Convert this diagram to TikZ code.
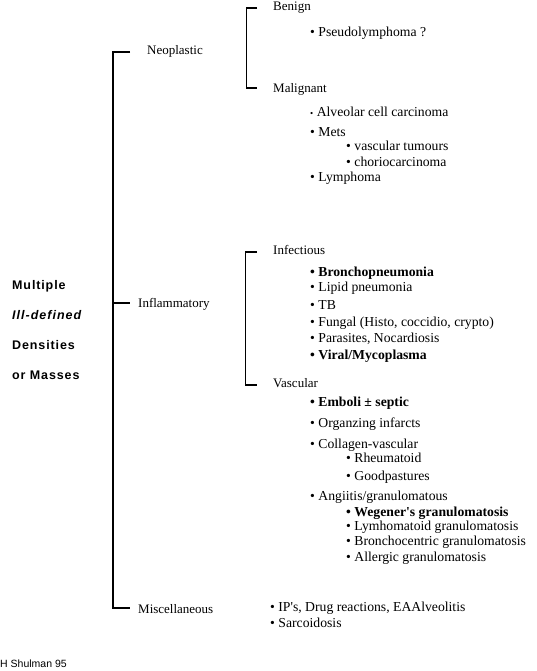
\documentclass[tikz,border=0pt]{standalone}
\usepackage{fontspec}
\setmainfont{Liberation Serif}[Ligatures=TeXOff]
\setsansfont{Liberation Sans}
\begin{document}
\begin{tikzpicture}[x=1pt,y=-1pt,
  cat/.style={anchor=base west,inner sep=0pt,font=\fontsize{13}{15}\selectfont},
  txt/.style={anchor=base west,inner sep=0pt,font=\fontsize{13.7}{15}\selectfont},
  btxt/.style={txt,font=\fontsize{13.7}{15}\selectfont\bfseries},
  lbl/.style={anchor=base west,inner sep=0pt,font=\sffamily\bfseries\fontsize{12.5}{14}\selectfont\addfontfeatures{LetterSpace=7}},
  brk/.style={line width=1.7pt,line cap=butt,line join=miter}]
\useasboundingbox (0,0) rectangle (537,671);
\fill[white] (0,0) rectangle (537,671);
% left title
\node[lbl] (t1) at (12,289) {Multiple};
\node[lbl,font=\sffamily\bfseries\itshape\fontsize{12.5}{14}\selectfont\addfontfeatures{LetterSpace=8}] (t2) at (12,319) {Ill-defined};
\node[lbl] (t3) at (12,349) {Densities};
\node[lbl] (t4) at (12,379) {or Masses};
% main bracket
\coordinate (m1) at (130,52);
\coordinate (m2) at (130,608);
\coordinate (m3) at (130,303);
\draw[brk] (m1) -| (113,608) -- (m2);
\draw[brk] (113,303) -- (m3);
\node[cat] (neo) at (147,55) {Neoplastic};
\node[cat] (inf) at (138,307) {Inflammatory};
\node[cat] (misc) at (138,613) {Miscellaneous};
% neoplastic sub bracket
\coordinate (n1) at (257,8);
\coordinate (n2) at (257,88);
\draw[brk] (n1) -| (246.5,88) -- (n2);
\node[cat] (benign) at (273,11) {Benign};
\node[txt] (b1) at (310,37) {• Pseudolymphoma ?};
\node[cat] (malig) at (273,93) {Malignant};
\node[txt] (m1t) at (310,117) {{\fontsize{9}{10}\selectfont •} Alveolar cell carcinoma};
\node[txt] (m2t) at (310,137) {• Mets};
\node[txt] (m3t) at (346,151) {• vascular tumours};
\node[txt] (m4t) at (346,167) {• choriocarcinoma};
\node[txt] (m5t) at (310,181) {• Lymphoma};
% inflammatory sub bracket
\coordinate (i1) at (257,252);
\coordinate (i2) at (257,385);
\draw[brk] (i1) -| (245.5,385) -- (i2);
\node[cat] (infect) at (273,254) {Infectious};
\node[btxt] (f1) at (310,276) {• Bronchopneumonia};
\node[txt] (f2) at (310,291) {• Lipid pneumonia};
\node[txt] (f3) at (310,309) {• TB};
\node[txt] (f4) at (310,326) {• Fungal (Histo, coccidio, crypto)};
\node[txt] (f5) at (310,342) {• Parasites, Nocardiosis};
\node[btxt] (f6) at (310,359) {• Viral/Mycoplasma};
\node[cat] (vasc) at (273,387) {Vascular};
\node[btxt] (v1) at (310,406) {• Emboli ± septic};
\node[txt] (v2) at (310,427) {• Organzing infarcts};
\node[txt] (v3) at (310,448) {• Collagen-vascular};
\node[txt] (v4) at (346,462) {• Rheumatoid};
\node[txt] (v5) at (346,480) {• Goodpastures};
\node[txt] (v6) at (310,500) {• Angiitis/granulomatous};
\node[btxt] (v7) at (346,516) {• Wegener's granulomatosis};
\node[txt] (v8) at (346,530) {• Lymhomatoid granulomatosis};
\node[txt] (v9) at (346,545) {• Bronchocentric granulomatosis};
\node[txt] (v10) at (346,561) {• Allergic granulomatosis};
% miscellaneous
\node[txt] (x1) at (270,611) {• IP's, Drug reactions, EAAlveolitis};
\node[txt] (x2) at (270,627) {• Sarcoidosis};
% signature
\node[anchor=base west,inner sep=0pt,font=\sffamily\fontsize{10.5}{12}\selectfont] (sig) at (0,667) {H Shulman 95};
\end{tikzpicture}
\end{document}
